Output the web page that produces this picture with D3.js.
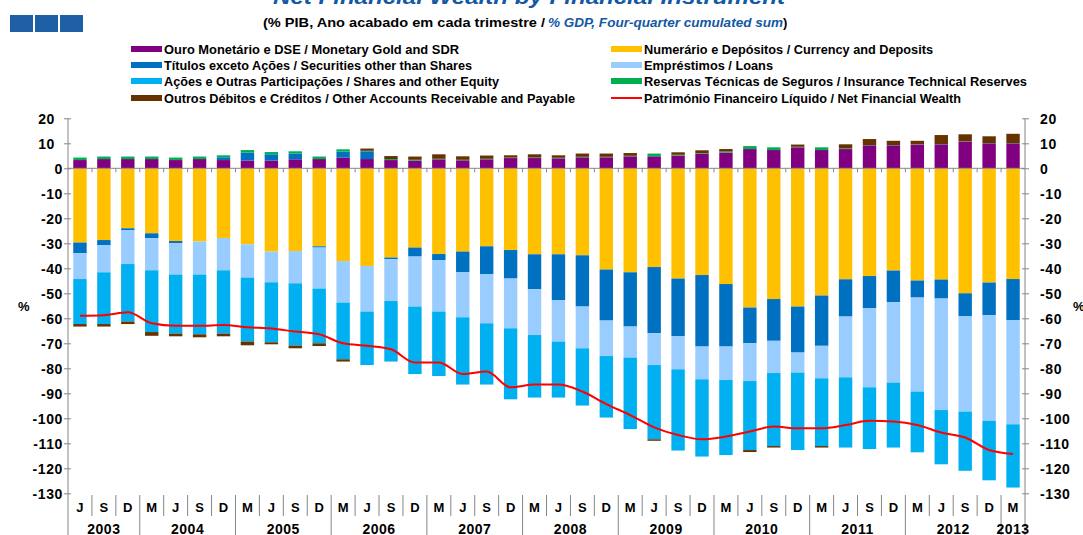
<!DOCTYPE html>
<html>
<head>
<meta charset="utf-8">
<script src="https://cdn.jsdelivr.net/npm/d3@7"></script>
<style>
    body { margin: 0; background: #fff; }
    svg { display: block; font-family: "Liberation Sans", Arial, sans-serif; }
</style>
</head>
<body>
<svg id="chart" width="1083" height="535"></svg>
<script>
// quarter labels (June 2003 .. March 2013)
const monthLabels = [
    "J", "S", "D",
    "M", "J", "S", "D", "M", "J", "S", "D", "M", "J", "S", "D",
    "M", "J", "S", "D", "M", "J", "S", "D", "M", "J", "S", "D",
    "M", "J", "S", "D", "M", "J", "S", "D", "M", "J", "S", "D",
    "M",
];
const yearLabels = ["2003", "2004", "2005", "2006", "2007", "2008", "2009", "2010", "2011", "2012", "2013"];
const quartersPerYear = [3, 4, 4, 4, 4, 4, 4, 4, 4, 4, 1];

// % of GDP
const gold = [3.3, 3.7, 3.7, 3.7, 3.3, 3.7, 3.3, 3.1, 3.1, 3.6, 3.7, 4.3, 3.7, 3.3, 3.1, 3.6, 3.2, 3.6, 4.1, 4.1,
    4.0, 4.4, 4.4, 4.8, 4.8, 5.1, 5.9, 6.3, 7.7, 7.3, 8.4, 7.3, 7.7, 9.2, 9.2, 9.5, 9.6, 10.7, 10.0, 10.0];
const currency = [-29.7, -28.7, -24.0, -26.0, -29.1, -29.3, -27.9, -30.4, -33.3, -33.1, -31.2, -37.1, -39.1, -35.7,
    -31.7, -34.3, -33.3, -31.2, -32.7, -34.4, -34.4, -34.8, -40.5, -41.6, -39.5, -44.1, -42.7, -46.3, -55.7, -52.3,
    -55.3, -50.9, -44.4, -43.1, -40.9, -44.9, -44.5, -50.0, -45.7, -44.3];
const securities = [-4.3, -2.1, -0.7, -1.9, -0.9, 0, 1.1, 3.2, 2.5, 2.3, -0.5, 2.4, 3.1, -0.7, -3.6, -2.5, -8.3,
    -11.2, -11.4, -14.0, -18.4, -20.5, -20.4, -21.7, -26.5, -23.0, -28.6, -25.0, -14.3, -16.7, -18.4, -20.1, -14.9,
    -12.9, -12.7, -6.8, -7.6, -9.1, -13.0, -16.4];
const loans = [-10.3, -10.8, -13.6, -12.9, -12.5, -13.2, -12.9, -13.3, -12.3, -12.9, -16.4, -16.6, -18.2, -16.7,
    -20.0, -20.5, -18.0, -19.6, -19.9, -18.3, -16.5, -16.7, -14.2, -12.4, -12.7, -13.3, -13.1, -13.4, -15.1, -12.9,
    -8.0, -13.0, -24.3, -31.6, -32.1, -37.6, -44.6, -38.2, -42.3, -41.7];
const shares = [-18.0, -20.7, -23.0, -24.7, -23.6, -23.9, -25.3, -25.6, -24.0, -24.9, -21.9, -22.7, -21.4, -24.2,
    -27.0, -25.8, -26.9, -24.5, -28.4, -25.0, -22.4, -22.9, -24.6, -28.6, -29.7, -32.5, -30.9, -30.0, -27.6, -29.2,
    -31.0, -27.1, -28.1, -24.7, -26.0, -24.3, -21.7, -23.7, -23.8, -25.3];
const insurance = [1.0, 1.0, 1.0, 1.0, 1.0, 1.0, 0.8, 1.0, 0.9, 0.9, 1.0, 0.9, 0.2, 0.4, 0.3, 0.2, 0.2, 0.2, 0.2,
    0.2, 0.2, 0.2, 0.2, 0.2, 1.1, 0.3, 0.2, 0.4, 1.2, 1.1, 0.2, 1.1, 0.3, 0.1, 0.1, 0.1, 0.1, 0.1, 0.1, 0.1];
const other = [-1.0, -1.0, -1.0, -1.5, -1.1, -1.2, -1.1, -1.5, -0.8, -1.1, -1.1, -0.9, 0.9, 1.2, 1.3, 1.8, 1.4,
    1.3, 0.9, 1.3, 1.0, 1.3, 1.3, 1.1, -0.6, 1.0, 1.1, 1.0, -0.8, -0.6, 0.9, -0.6, 1.6, 2.4, 1.7, 1.4, 3.6, 2.8,
    2.7, 3.7];
const netWealth = [-59.0, -58.8, -57.6, -62.0, -63.0, -63.0, -62.7, -63.6, -64.1, -65.3, -66.4, -70.0, -71.0,
    -72.4, -77.7, -77.7, -82.3, -81.3, -87.6, -86.5, -86.5, -89.3, -94.3, -98.7, -103.6, -106.7, -108.4, -107.3,
    -105.3, -103.3, -104.0, -104.0, -102.7, -101.0, -101.3, -102.7, -105.7, -107.7, -112.7, -114.3];

const yTicks = [-130, -120, -110, -100, -90, -80, -70, -60, -50, -40, -30, -20, -10, 0, 10, 20];

const seriesNames = {
    gold: "Ouro Monetário e DSE / Monetary Gold and SDR",
    currency: "Numerário e Depósitos / Currency and Deposits",
    securities: "Títulos exceto Ações / Securities other than Shares",
    loans: "Empréstimos / Loans",
    shares: "Ações e Outras Participações / Shares and other Equity",
    insurance: "Reservas Técnicas de Seguros / Insurance Technical Reserves",
    other: "Outros Débitos e Créditos / Other Accounts Receivable and Payable",
    net: "Património Financeiro Líquido / Net Financial Wealth",
};

const colors = {
    gold: "#800080",
    currency: "#FFC000",
    securities: "#0070C0",
    loans: "#99CCFF",
    shares: "#00B0F0",
    insurance: "#00B050",
    other: "#663300",
    net: "#FF0000",
};

const svg = d3.select("#chart");
const axisColor = "#868686";
const plotLeft = 68, plotRight = 1025;

const x = d3.scaleBand()
    .domain(d3.range(monthLabels.length))
    .range([plotLeft, plotRight])
    .paddingInner(0.44)
    .paddingOuter(0.22);
const y = d3.scaleLinear().domain([-130, 20]).range([493.3, 118.3]);

// squeeze a text element into a given width
function fit(sel, w) {
    sel.attr("textLength", w).attr("lengthAdjust", "spacingAndGlyphs");
    return sel;
}

// title block
svg.append("g")
    .attr("fill", "#1F5FA6")
    .selectAll("rect")
    .data([10, 35, 60])
    .join("rect")
    .attr("x", (d) => d)
    .attr("y", 15)
    .attr("width", 23)
    .attr("height", 17);

fit(svg.append("text")
    .attr("x", 273)
    .attr("y", 4)
    .attr("fill", "#1358A4")
    .style("font-size", "20px")
    .style("font-weight", "bold")
    .style("font-style", "italic")
    .text("Net Financial Wealth by Financial Instrument"), 512);

fit(svg.append("text")
    .attr("x", 263)
    .attr("y", 27)
    .style("font-size", "13px")
    .style("font-weight", "bold")
    .text("(% PIB, Ano acabado em cada trimestre / "), 282);
fit(svg.append("text")
    .attr("x", 548)
    .attr("y", 27)
    .attr("fill", "#1358A4")
    .style("font-size", "13px")
    .style("font-weight", "bold")
    .style("font-style", "italic")
    .text("% GDP, Four-quarter cumulated sum"), 235);
svg.append("text")
    .attr("x", 783)
    .attr("y", 27)
    .style("font-size", "13px")
    .style("font-weight", "bold")
    .text(")");

// legend
const legendCols = [
    ["gold", "securities", "shares", "other"],
    ["currency", "loans", "insurance", "net"],
];
const legendX = [131, 611];
const legendRowY = [49, 65, 81, 98];
const legendWidths = {
    gold: 295, securities: 308, shares: 335, other: 411,
    currency: 289, loans: 129, insurance: 383, net: 317,
};
legendCols.forEach((col, c) => {
    col.forEach((key, r) => {
        const g = svg.append("g")
            .attr("transform", `translate(${legendX[c]},${legendRowY[r]})`);
        if (key === "net") {
            g.append("line")
                .attr("x1", 0).attr("x2", 31)
                .attr("stroke", colors.net)
                .attr("stroke-width", 2);
        } else {
            g.append("rect")
                .attr("x", 0).attr("y", -3)
                .attr("width", 31).attr("height", 6)
                .attr("fill", colors[key]);
        }
        fit(g.append("text")
            .attr("x", 33)
            .attr("y", 4.5)
            .style("font-size", "12px")
            .style("font-weight", "bold")
            .text(seriesNames[key]), legendWidths[key]);
    });
});

// stacked bars
const keys = ["gold", "currency", "securities", "loans", "shares", "insurance", "other"];
const values = { gold, currency, securities, loans, shares, insurance, other };
const rows = monthLabels.map((m, i) => {
    const row = { i };
    keys.forEach((k) => (row[k] = values[k][i]));
    return row;
});
const stacked = d3.stack()
    .keys(keys)
    .offset(d3.stackOffsetDiverging)(rows);

svg.append("g")
    .selectAll("g")
    .data(stacked)
    .join("g")
    .attr("fill", (d) => colors[d.key])
    .selectAll("rect")
    .data((d) => d)
    .join("rect")
    .attr("x", (d) => x(d.data.i))
    .attr("width", x.bandwidth())
    .attr("y", (d) => y(Math.max(d[0], d[1])))
    .attr("height", (d) => Math.abs(y(d[0]) - y(d[1])));

// zero line with small ticks at category boundaries
const zero = svg.append("g").attr("stroke", axisColor);
zero.append("line")
    .attr("x1", plotLeft).attr("x2", plotRight)
    .attr("y1", y(0)).attr("y2", y(0));
zero.selectAll("line.tk")
    .data(d3.range(1, monthLabels.length))
    .join("line")
    .attr("class", "tk")
    .attr("x1", (i) => x(i) - (x.step() - x.bandwidth()) / 2)
    .attr("x2", (i) => x(i) - (x.step() - x.bandwidth()) / 2)
    .attr("y1", y(0))
    .attr("y2", y(0) + 4);

// net financial wealth
svg.append("path")
    .datum(netWealth)
    .attr("fill", "none")
    .attr("stroke", colors.net)
    .attr("stroke-width", 2)
    .attr("d", d3.line()
        .x((d, i) => x(i) + x.bandwidth() / 2)
        .y((d) => y(d))
        .curve(d3.curveMonotoneX));

// y axes
function styleAxis(g) {
    g.select(".domain").remove();
    g.selectAll(".tick line").attr("stroke", axisColor);
    g.selectAll(".tick text")
        .attr("fill", "#000")
        .style("font-size", "14px")
        .style("font-weight", "bold")
        .style("letter-spacing", "0.6px")
        .style("font-family", "'Liberation Sans', Arial, sans-serif");
}

svg.append("g")
    .attr("transform", `translate(${plotLeft},0)`)
    .call(d3.axisLeft(y).tickValues(yTicks).tickSize(4).tickFormat((d) => String(d)))
    .call(styleAxis)
    .call((g) => g.selectAll(".tick line").attr("x1", 3))
    .call((g) => g.selectAll(".tick text")
        .attr("x", (d) => (d > 0 ? -13 : -5))
        .attr("dy", "0.36em"));

svg.append("g")
    .attr("transform", `translate(${plotRight},0)`)
    .call(d3.axisRight(y).tickValues(yTicks).tickSize(4).tickFormat((d) => String(d)))
    .call(styleAxis)
    .call((g) => g.selectAll(".tick line").attr("x1", -3))
    .call((g) => g.selectAll(".tick text").attr("x", 15).attr("dy", "0.36em"));

[plotLeft, plotRight].forEach((px) => {
    svg.append("line")
        .attr("x1", px).attr("x2", px)
        .attr("y1", y(20)).attr("y2", 535)
        .attr("stroke", axisColor);
});

svg.append("text").attr("x", 18).attr("y", 311)
    .style("font-size", "13px").style("font-weight", "bold").text("%");
svg.append("text").attr("x", 1073).attr("y", 311)
    .style("font-size", "13px").style("font-weight", "bold").text("%");

// category axis: months, years and separators
const yearStarts = [];
quartersPerYear.reduce((acc, n) => {
    yearStarts.push(acc);
    return acc + n;
}, 0);

const boundary = (i) => plotLeft + x.step() * i;

svg.append("g")
    .attr("stroke", axisColor)
    .selectAll("line")
    .data(d3.range(1, monthLabels.length))
    .join("line")
    .attr("x1", boundary)
    .attr("x2", boundary)
    .attr("y1", 495)
    .attr("y2", (i) => (yearStarts.includes(i) ? 535 : 516));

svg.append("g")
    .selectAll("text")
    .data(monthLabels)
    .join("text")
    .attr("x", (d, i) => x(i) + x.bandwidth() / 2)
    .attr("y", 512)
    .attr("text-anchor", "middle")
    .style("font-size", "13px")
    .style("font-weight", "bold")
    .text((d) => d);

svg.append("g")
    .selectAll("text")
    .data(yearLabels)
    .join("text")
    .attr("x", (d, k) => boundary(yearStarts[k]) + (x.step() * quartersPerYear[k]) / 2)
    .attr("y", 534)
    .attr("text-anchor", "middle")
    .style("font-size", "14px")
    .style("font-weight", "bold")
    .style("letter-spacing", "0.5px")
    .text((d) => d);
</script>
</body>
</html>
